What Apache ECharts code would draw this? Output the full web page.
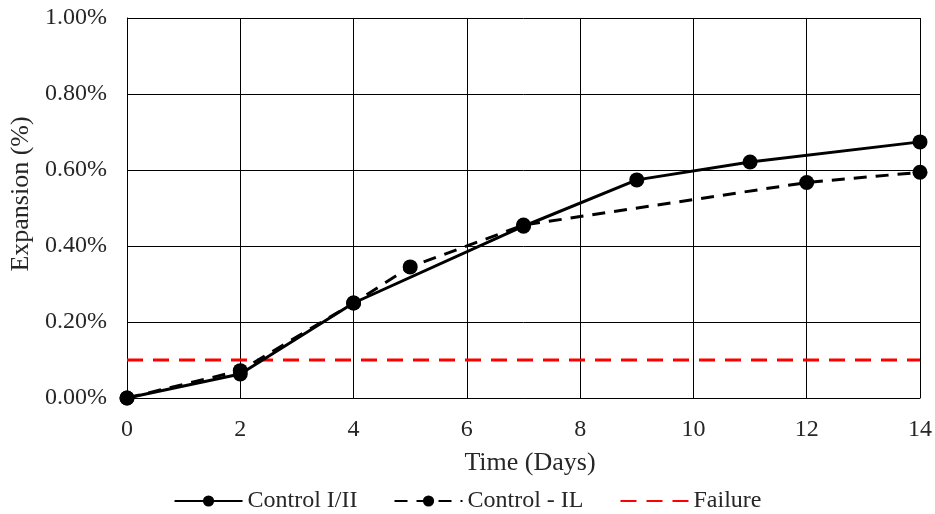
<!DOCTYPE html>
<html>
<head>
<meta charset="utf-8">
<script src="https://cdn.jsdelivr.net/npm/echarts@6/dist/echarts.min.js"></script>
<style>html,body{margin:0;padding:0;background:#fff;}#c{width:935px;height:514px;}</style>
</head>
<body>
<div id="c"></div>
<script>
const daysA = [0, 2, 4, 7, 9, 11, 14];
const controlI_II = [0, 0.063, 0.25, 0.452, 0.574, 0.621, 0.674];
const daysB = [0, 2, 4, 5, 7, 12, 14];
const controlIL = [0, 0.072, 0.25, 0.345, 0.455, 0.567, 0.594];
const failureDays = [0, 14];
const failureValue = [0.1, 0.1];
const xTicks = [0, 2, 4, 6, 8, 10, 12, 14];
const yTicks = [0, 0.2, 0.4, 0.6, 0.8, 1.0];

const font = 'Liberation Serif';
const txt = '#262626';
const chart = echarts.init(document.getElementById('c'), null, {renderer: 'canvas'});
chart.setOption({
  animation: false,
  grid: {left: 127, right: 13, top: 18, bottom: 116, show: false},
  legend: {
    top: 489, left: 'center', padding: 0,
    itemWidth: 68, itemHeight: 14, itemGap: 36,
    textStyle: {fontFamily: font, fontSize: 24, color: txt},
    data: ['Control I/II', 'Control - IL', {name: 'Failure', itemStyle: {opacity: 0}}]
  },
  xAxis: {
    type: 'value', min: 0, max: 14, interval: 2,
    name: 'Time (Days)', nameLocation: 'middle', nameGap: 52,
    nameTextStyle: {fontFamily: font, fontSize: 26, color: txt, padding: [0, 0, 0, 13]},
    axisLine: {show: true, lineStyle: {color: '#000', width: 1}},
    axisTick: {show: false},
    axisLabel: {margin: 20, fontFamily: font, fontSize: 24, color: txt,
      formatter: v => xTicks.includes(v) ? String(v) : ''},
    splitLine: {show: true, lineStyle: {color: '#000', width: 1}}
  },
  yAxis: {
    type: 'value', min: 0, max: 1, interval: 0.2,
    name: 'Expansion (%)', nameLocation: 'middle', nameGap: 90,
    nameTextStyle: {fontFamily: font, fontSize: 26, color: txt, padding: [0, 0, 0, 28]},
    axisLine: {show: true, lineStyle: {color: '#000', width: 1}},
    axisTick: {show: false},
    axisLabel: {margin: 20, fontFamily: font, fontSize: 24, color: txt, padding: [3, 0, 0, 0],
      formatter: v => v.toFixed(2) + '%'},
    splitLine: {show: true, lineStyle: {color: '#000', width: 1}}
  },
  series: [
    {
      name: 'Control I/II', type: 'line',
      data: daysA.map((d, i) => [d, controlI_II[i]]),
      symbol: 'circle', symbolSize: 15,
      itemStyle: {color: '#000'},
      lineStyle: {color: '#000', width: 3, type: 'solid'},
      z: 3
    },
    {
      name: 'Control - IL', type: 'line',
      data: daysB.map((d, i) => [d, controlIL[i]]),
      symbol: 'circle', symbolSize: 15,
      itemStyle: {color: '#000'},
      lineStyle: {color: '#000', width: 3, type: [13, 9]},
      z: 3
    },
    {
      name: 'Failure', type: 'line',
      data: failureDays.map((d, i) => [d, failureValue[i]]),
      symbol: 'none',
      itemStyle: {color: '#ff0000'},
      lineStyle: {color: '#ff0000', width: 3, type: [16, 10]},
      z: 2
    }
  ]
});
</script>
</body>
</html>
